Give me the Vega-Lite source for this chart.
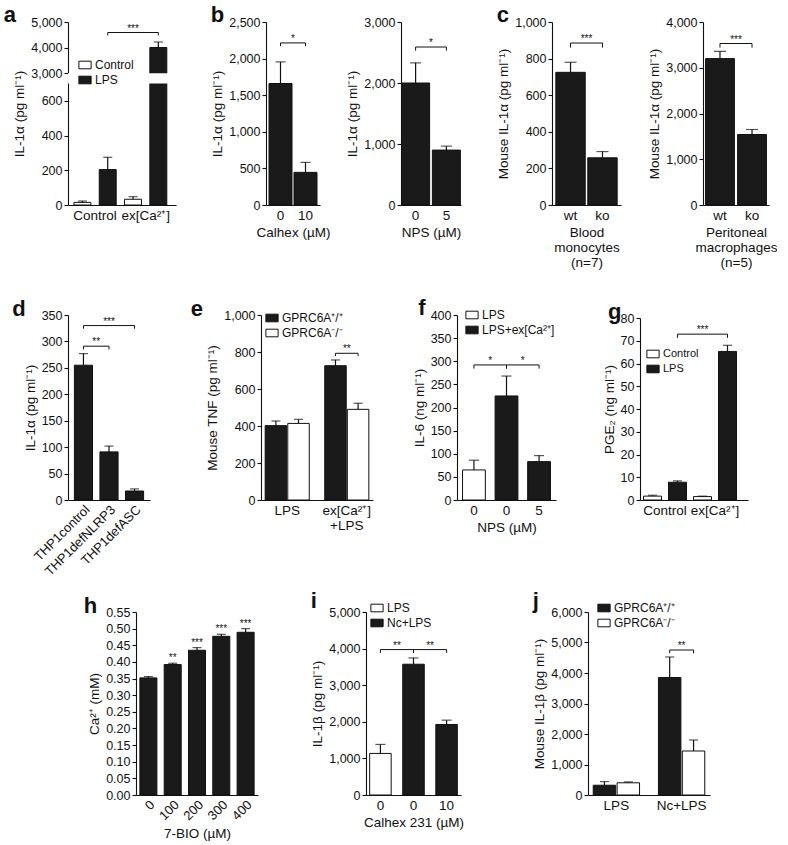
{
"$schema": "https://vega.github.io/schema/vega-lite/v6.json",
"background": "white",
"padding": {"left": 3, "top": 4, "right": 0, "bottom": 0},
"config": {
  "font": "Liberation Sans",
  "view": {"stroke": null},
  "axis": {"grid": false, "domainColor": "#111111", "domainWidth": 1.1, "tickColor": "#111111", "tickWidth": 1.1, "tickSize": 4, "labelColor": "#111111", "titleColor": "#111111", "labelFontSize": 12.5, "titleFontSize": 13.5, "titleFontWeight": "normal", "labelPadding": 2, "titlePadding": 4, "labelFont": "Liberation Sans", "titleFont": "Liberation Sans", "titleLineHeight": 15, "labelLineHeight": 15},
  "axisX": {"ticks": false, "labelAngle": 0, "labelPadding": 3, "labelFontSize": 13.5},
  "legend": {"symbolType": "M-1,-0.62H1V0.62H-1Z", "symbolSize": 150, "symbolStrokeColor": "#111111", "symbolStrokeWidth": 1, "labelFontSize": 12, "labelColor": "#111111", "rowPadding": 2, "labelOffset": 3, "labelFont": "Liberation Sans"},
  "title": {"fontSize": 22, "fontWeight": "bold", "anchor": "start", "frame": "bounds", "offset": 0, "baseline": "alphabetic", "color": "#111111", "font": "Liberation Sans"}
},
"datasets": {
  "a": [{"grp":"Control","sub":"Control","v":15,"err":23},{"grp":"Control","sub":"LPS","v":204,"err":275},{"grp":"ex[Ca²⁺]","sub":"Control","v":33,"err":48},{"grp":"ex[Ca²⁺]","sub":"LPS","v":4005,"err":4220}],
  "a_br": [{"b":1,"o":1,"grp":"Control","sub":"LPS","v":4480},{"b":1,"o":2,"grp":"Control","sub":"LPS","v":4590},{"b":1,"o":3,"grp":"ex[Ca²⁺]","sub":"LPS","v":4590},{"b":1,"o":4,"grp":"ex[Ca²⁺]","sub":"LPS","v":4480}],
  "a_st": [{"grp":"ex[Ca²⁺]","sub":"Control","v":4590,"s":"***"}],
  "b1": [{"cat":"0","v":1660,"err":1955},{"cat":"10","v":446,"err":582}],
  "b1_br": [{"b":1,"o":1,"cat":"0","v":2170},{"b":1,"o":2,"cat":"0","v":2214},{"b":1,"o":3,"cat":"10","v":2214},{"b":1,"o":4,"cat":"10","v":2170}],
  "b1_st": [{"cat":"0","v":2214,"s":"*"}],
  "b2": [{"cat":"0","v":2000,"err":2330},{"cat":"5","v":900,"err":965}],
  "b2_br": [{"b":1,"o":1,"cat":"0","v":2530},{"b":1,"o":2,"cat":"0","v":2590},{"b":1,"o":3,"cat":"5","v":2590},{"b":1,"o":4,"cat":"5","v":2530}],
  "b2_st": [{"cat":"0","v":2590,"s":"*"}],
  "c1": [{"cat":"wt","v":725,"err":780},{"cat":"ko","v":258,"err":292}],
  "c1_br": [{"b":1,"o":1,"cat":"wt","v":860},{"b":1,"o":2,"cat":"wt","v":885},{"b":1,"o":3,"cat":"ko","v":885},{"b":1,"o":4,"cat":"ko","v":860}],
  "c1_st": [{"cat":"wt","v":885,"s":"***"}],
  "c2": [{"cat":"wt","v":3200,"err":3360},{"cat":"ko","v":1540,"err":1650}],
  "c2_br": [{"b":1,"o":1,"cat":"wt","v":3440},{"b":1,"o":2,"cat":"wt","v":3530},{"b":1,"o":3,"cat":"ko","v":3530},{"b":1,"o":4,"cat":"ko","v":3440}],
  "c2_st": [{"cat":"wt","v":3530,"s":"***"}],
  "d": [{"cat":"THP1control","v":255,"err":277},{"cat":"THP1defNLRP3","v":91,"err":102},{"cat":"THP1defASC","v":17,"err":21}],
  "d_br": [{"b":1,"o":1,"cat":"THP1control","v":285},{"b":1,"o":2,"cat":"THP1control","v":291},{"b":1,"o":3,"cat":"THP1defNLRP3","v":291},{"b":1,"o":4,"cat":"THP1defNLRP3","v":285},{"b":2,"o":1,"cat":"THP1control","v":324},{"b":2,"o":2,"cat":"THP1control","v":330},{"b":2,"o":3,"cat":"THP1defASC","v":330},{"b":2,"o":4,"cat":"THP1defASC","v":324}],
  "d_st1": [{"cat":"THP1control","v":291,"s":"**"}],
  "d_st2": [{"cat":"THP1defNLRP3","v":330,"s":"***"}],
  "e": [{"grp":"LPS","sub":"GPRC6A⁺/⁺","v":402,"err":427},{"grp":"LPS","sub":"GPRC6A⁻/⁻","v":414,"err":436},{"grp":"ex[Ca²⁺]\n+LPS","sub":"GPRC6A⁺/⁺","v":726,"err":757},{"grp":"ex[Ca²⁺]\n+LPS","sub":"GPRC6A⁻/⁻","v":490,"err":523}],
  "e_br": [{"b":1,"o":1,"grp":"ex[Ca²⁺]\n+LPS","sub":"GPRC6A⁺/⁺","v":778},{"b":1,"o":2,"grp":"ex[Ca²⁺]\n+LPS","sub":"GPRC6A⁺/⁺","v":793},{"b":1,"o":3,"grp":"ex[Ca²⁺]\n+LPS","sub":"GPRC6A⁻/⁻","v":793},{"b":1,"o":4,"grp":"ex[Ca²⁺]\n+LPS","sub":"GPRC6A⁻/⁻","v":778}],
  "e_st": [{"grp":"ex[Ca²⁺]\n+LPS","v":793,"s":"**"}],
  "f": [{"cat":"0|LPS","trt":"LPS","v":65,"err":86},{"cat":"0|LPS+ex","trt":"LPS+ex[Ca²⁺]","v":225,"err":268},{"cat":"5|LPS+ex","trt":"LPS+ex[Ca²⁺]","v":83,"err":96}],
  "f_br": [{"b":1,"o":1,"cat":"0|LPS","v":284},{"b":1,"o":2,"cat":"0|LPS","v":292},{"b":1,"o":3,"cat":"0|LPS+ex","v":292},{"b":1,"o":4,"cat":"0|LPS+ex","v":284},{"b":2,"o":1,"cat":"0|LPS+ex","v":284},{"b":2,"o":2,"cat":"0|LPS+ex","v":292},{"b":2,"o":3,"cat":"5|LPS+ex","v":292},{"b":2,"o":4,"cat":"5|LPS+ex","v":284}],
  "f_st": [{"cat":"0|LPS","v":292,"s":"*"},{"cat":"0|LPS+ex","v":292,"s":"*"}],
  "g": [{"grp":"Control","sub":"Control","v":1.7,"err":2.1},{"grp":"Control","sub":"LPS","v":7.8,"err":8.4},{"grp":"ex[Ca²⁺]","sub":"Control","v":1.5,"err":1.7},{"grp":"ex[Ca²⁺]","sub":"LPS","v":65.3,"err":68}],
  "g_br": [{"b":1,"o":1,"grp":"Control","sub":"LPS","v":71.3},{"b":1,"o":2,"grp":"Control","sub":"LPS","v":72.9},{"b":1,"o":3,"grp":"ex[Ca²⁺]","sub":"LPS","v":72.9},{"b":1,"o":4,"grp":"ex[Ca²⁺]","sub":"LPS","v":71.3}],
  "g_st": [{"grp":"ex[Ca²⁺]","sub":"Control","v":72.9,"s":"***"}],
  "h": [{"cat":"0","v":0.352,"err":0.356},{"cat":"100","v":0.392,"err":0.396},{"cat":"200","v":0.435,"err":0.443},{"cat":"300","v":0.477,"err":0.483},{"cat":"400","v":0.489,"err":0.5}],
  "h_st": [{"cat":"100","v":0.396,"s":"**"},{"cat":"200","v":0.443,"s":"***"},{"cat":"300","v":0.483,"s":"***"},{"cat":"400","v":0.5,"s":"***"}],
  "i": [{"cat":"0|LPS","trt":"LPS","v":1136,"err":1382},{"cat":"0|Nc","trt":"Nc+LPS","v":3573,"err":3745},{"cat":"10|Nc","trt":"Nc+LPS","v":1927,"err":2045}],
  "i_br": [{"b":1,"o":1,"cat":"0|LPS","v":3882},{"b":1,"o":2,"cat":"0|LPS","v":3973},{"b":1,"o":3,"cat":"0|Nc","v":3973},{"b":1,"o":4,"cat":"0|Nc","v":3882},{"b":2,"o":1,"cat":"0|Nc","v":3882},{"b":2,"o":2,"cat":"0|Nc","v":3973},{"b":2,"o":3,"cat":"10|Nc","v":3973},{"b":2,"o":4,"cat":"10|Nc","v":3882}],
  "i_st": [{"cat":"0|LPS","v":3973,"s":"**"},{"cat":"0|Nc","v":3973,"s":"**"}],
  "j": [{"grp":"LPS","sub":"GPRC6A⁺/⁺","v":320,"err":440},{"grp":"LPS","sub":"GPRC6A⁻/⁻","v":400,"err":430},{"grp":"Nc+LPS","sub":"GPRC6A⁺/⁺","v":3850,"err":4525},{"grp":"Nc+LPS","sub":"GPRC6A⁻/⁻","v":1443,"err":1803}],
  "j_br": [{"b":1,"o":1,"grp":"Nc+LPS","sub":"GPRC6A⁺/⁺","v":4645},{"b":1,"o":2,"grp":"Nc+LPS","sub":"GPRC6A⁺/⁺","v":4754},{"b":1,"o":3,"grp":"Nc+LPS","sub":"GPRC6A⁻/⁻","v":4754},{"b":1,"o":4,"grp":"Nc+LPS","sub":"GPRC6A⁻/⁻","v":4645}],
  "j_st": [{"grp":"Nc+LPS","v":4754,"s":"**"}]
},
"spacing": 11,
"resolve": {"scale": {"fill": "independent", "xOffset": "independent"}, "legend": {"fill": "independent"}},
"vconcat": [
 {"spacing": 28,
  "resolve": {"scale": {"fill": "independent", "xOffset": "independent"}, "legend": {"fill": "independent"}},
  "vconcat": [
  {"bounds": "flush", "spacing": 0,
   "resolve": {"scale": {"fill": "independent", "xOffset": "independent"}, "legend": {"fill": "independent"}},
   "hconcat": [
  {"title": {"text": "a", "dx": -9, "dy": 15}, "width": 108, "height": 183,
   "layer": [
    {"data": {"name": "a"},
     "encoding": {
       "x": {"field": "grp", "type": "nominal", "sort": ["Control", "ex[Ca²⁺]"], "scale": {"paddingInner": 0, "paddingOuter": 0.067, "align": 0.26}, "axis": {"title": null}},
       "y": {"field": "v", "type": "quantitative", "scale": {"domain": [0, 700, 3000, 5000], "range": [183, 61.5, 51.3, 0], "nice": false, "zero": false}, "axis": {"values": [0, 200, 400, 600, 3000, 4000, 5000], "format": ",d", "title": "IL-1α (pg ml⁻¹)", "zindex": 0}}
     },
     "layer": [
       {"mark": {"type": "bar", "stroke": "#111111", "strokeWidth": 1}, "encoding": {"xOffset": {"field": "sub", "type": "nominal", "sort": ["Control", "LPS"], "scale": {"paddingInner": 0.33, "paddingOuter": 0.165}}, "fill": {"field": "sub", "type": "nominal", "scale": {"domain": ["Control", "LPS"], "range": ["#ffffff", "#1a1a1a"]}, "legend": {"title": null, "orient": "none", "legendX": 10, "legendY": 36}}}},
       {"mark": {"type": "rule", "color": "#111111", "strokeWidth": 1.2}, "encoding": {"xOffset": {"field": "sub", "type": "nominal", "sort": ["Control", "LPS"], "scale": {"paddingInner": 0.33, "paddingOuter": 0.165}}, "y2": {"field": "err"}}},
       {"mark": {"type": "tick", "color": "#111111", "thickness": 1.2, "size": 9}, "encoding": {"xOffset": {"field": "sub", "type": "nominal", "sort": ["Control", "LPS"], "scale": {"paddingInner": 0.33, "paddingOuter": 0.165}}, "y": {"field": "err", "type": "quantitative", "axis": {"values": [0, 200, 400, 600, 3000, 4000, 5000], "format": ",d", "title": "IL-1α (pg ml⁻¹)", "zindex": 0}}}},
       {"data": {"name": "a_br"}, "mark": {"type": "line", "color": "#111111", "strokeWidth": 1}, "encoding": {"xOffset": {"field": "sub", "type": "nominal", "sort": ["Control", "LPS"], "scale": {"paddingInner": 0.33, "paddingOuter": 0.165}}, "detail": {"field": "b"}, "order": {"field": "o"}}},
       {"data": {"name": "a_st"}, "mark": {"type": "text", "fontSize": 10, "dy": -1, "baseline": "alphabetic", "color": "#111111"}, "encoding": {"xOffset": {"field": "sub", "type": "nominal", "sort": ["Control", "LPS"], "scale": {"paddingInner": 0.33, "paddingOuter": 0.165}}, "text": {"field": "s"}}}
     ]},
    {"data": {"values": [{"lo": 700, "hi": 3000}]}, "mark": {"type": "rect", "fill": "#ffffff"}, "encoding": {"y": {"field": "lo", "type": "quantitative", "axis": {"values": [0, 200, 400, 600, 3000, 4000, 5000], "format": ",d", "title": "IL-1α (pg ml⁻¹)", "zindex": 0}}, "y2": {"field": "hi"}}}
   ]},
  {"width": 90, "height": 183, "data": {"values": []}, "mark": "point"},
  {"title": {"text": "b", "dy": 15}, "width": 54, "height": 183, "data": {"name": "b1"},
   "encoding": {
     "x": {"field": "cat", "type": "nominal", "sort": ["0", "10"], "scale": {"paddingInner": 0.08, "paddingOuter": 0.12}, "axis": {"title": "Calhex (µM)"}},
     "y": {"field": "v", "type": "quantitative", "scale": {"domain": [0, 2500], "nice": false}, "axis": {"values": [0, 500, 1000, 1500, 2000, 2500], "format": ",d", "title": "IL-1α (pg ml⁻¹)"}}
   },
   "layer": [
     {"mark": {"type": "bar", "fill": "#1a1a1a", "stroke": "#111111", "strokeWidth": 1}},
     {"mark": {"type": "rule", "color": "#111111", "strokeWidth": 1.2}, "encoding": {"y2": {"field": "err"}}},
     {"mark": {"type": "tick", "color": "#111111", "thickness": 1.2, "size": 10}, "encoding": {"y": {"field": "err", "type": "quantitative", "axis": {"values": [0, 500, 1000, 1500, 2000, 2500], "format": ",d", "title": "IL-1α (pg ml⁻¹)"}}}},
     {"data": {"name": "b1_br"}, "mark": {"type": "line", "color": "#111111", "strokeWidth": 1}, "encoding": {"detail": {"field": "b"}, "order": {"field": "o"}}},
     {"data": {"name": "b1_st"}, "mark": {"type": "text", "fontSize": 10, "dy": -1, "baseline": "alphabetic", "color": "#111111"}, "encoding": {"x": {"field": "cat", "type": "nominal", "sort": ["0", "10"], "bandPosition": 1.043, "axis": {"title": "Calhex (µM)"}}, "text": {"field": "s"}}}
   ]},
  {"width": 81, "height": 183, "data": {"values": []}, "mark": "point"},
  {"width": 60, "height": 183, "data": {"name": "b2"},
   "encoding": {
     "x": {"field": "cat", "type": "nominal", "sort": ["0", "5"], "scale": {"paddingInner": 0.09, "paddingOuter": 0.02}, "axis": {"title": "NPS (µM)"}},
     "y": {"field": "v", "type": "quantitative", "scale": {"domain": [0, 3000], "nice": false}, "axis": {"values": [0, 1000, 2000, 3000], "format": ",d", "title": "IL-1α (pg ml⁻¹)"}}
   },
   "layer": [
     {"mark": {"type": "bar", "fill": "#1a1a1a", "stroke": "#111111", "strokeWidth": 1}},
     {"mark": {"type": "rule", "color": "#111111", "strokeWidth": 1.2}, "encoding": {"y2": {"field": "err"}}},
     {"mark": {"type": "tick", "color": "#111111", "thickness": 1.2, "size": 11}, "encoding": {"y": {"field": "err", "type": "quantitative", "axis": {"values": [0, 1000, 2000, 3000], "format": ",d", "title": "IL-1α (pg ml⁻¹)"}}}},
     {"data": {"name": "b2_br"}, "mark": {"type": "line", "color": "#111111", "strokeWidth": 1}, "encoding": {"detail": {"field": "b"}, "order": {"field": "o"}}},
     {"data": {"name": "b2_st"}, "mark": {"type": "text", "fontSize": 10, "dy": -1, "baseline": "alphabetic", "color": "#111111"}, "encoding": {"x": {"field": "cat", "type": "nominal", "sort": ["0", "5"], "bandPosition": 1.049, "axis": {"title": "NPS (µM)"}}, "text": {"field": "s"}}}
   ]},
  {"width": 91, "height": 183, "data": {"values": []}, "mark": "point"},
  {"title": {"text": "c", "dy": 15}, "width": 69, "height": 183, "data": {"name": "c1"},
   "encoding": {
     "x": {"field": "cat", "type": "nominal", "sort": ["wt", "ko"], "scale": {"paddingInner": 0.08, "paddingOuter": 0.12}, "axis": {"title": ["Blood", "monocytes", "(n=7)"]}},
     "y": {"field": "v", "type": "quantitative", "scale": {"domain": [0, 1000], "nice": false}, "axis": {"values": [0, 200, 400, 600, 800, 1000], "format": ",d", "title": "Mouse IL-1α (pg ml⁻¹)"}}
   },
   "layer": [
     {"mark": {"type": "bar", "fill": "#1a1a1a", "stroke": "#111111", "strokeWidth": 1}},
     {"mark": {"type": "rule", "color": "#111111", "strokeWidth": 1.2}, "encoding": {"y2": {"field": "err"}}},
     {"mark": {"type": "tick", "color": "#111111", "thickness": 1.2, "size": 12}, "encoding": {"y": {"field": "err", "type": "quantitative", "axis": {"values": [0, 200, 400, 600, 800, 1000], "format": ",d", "title": "Mouse IL-1α (pg ml⁻¹)"}}}},
     {"data": {"name": "c1_br"}, "mark": {"type": "line", "color": "#111111", "strokeWidth": 1}, "encoding": {"detail": {"field": "b"}, "order": {"field": "o"}}},
     {"data": {"name": "c1_st"}, "mark": {"type": "text", "fontSize": 10, "dy": -1, "baseline": "alphabetic", "color": "#111111"}, "encoding": {"x": {"field": "cat", "type": "nominal", "sort": ["wt", "ko"], "bandPosition": 1.043, "axis": {"title": ["Blood", "monocytes", "(n=7)"]}}, "text": {"field": "s"}}}
   ]},
  {"width": 82, "height": 183, "data": {"values": []}, "mark": "point"},
  {"width": 66, "height": 183, "data": {"name": "c2"},
   "encoding": {
     "x": {"field": "cat", "type": "nominal", "sort": ["wt", "ko"], "scale": {"paddingInner": 0.1, "paddingOuter": 0.08}, "axis": {"title": ["Peritoneal", "macrophages", "(n=5)"]}},
     "y": {"field": "v", "type": "quantitative", "scale": {"domain": [0, 4000], "nice": false}, "axis": {"values": [0, 1000, 2000, 3000, 4000], "format": ",d", "title": "Mouse IL-1α (pg ml⁻¹)"}}
   },
   "layer": [
     {"mark": {"type": "bar", "fill": "#1a1a1a", "stroke": "#111111", "strokeWidth": 1}},
     {"mark": {"type": "rule", "color": "#111111", "strokeWidth": 1.2}, "encoding": {"y2": {"field": "err"}}},
     {"mark": {"type": "tick", "color": "#111111", "thickness": 1.2, "size": 12}, "encoding": {"y": {"field": "err", "type": "quantitative", "axis": {"values": [0, 1000, 2000, 3000, 4000], "format": ",d", "title": "Mouse IL-1α (pg ml⁻¹)"}}}},
     {"data": {"name": "c2_br"}, "mark": {"type": "line", "color": "#111111", "strokeWidth": 1}, "encoding": {"detail": {"field": "b"}, "order": {"field": "o"}}},
     {"data": {"name": "c2_st"}, "mark": {"type": "text", "fontSize": 10, "dy": -1, "baseline": "alphabetic", "color": "#111111"}, "encoding": {"x": {"field": "cat", "type": "nominal", "sort": ["wt", "ko"], "bandPosition": 1.056, "axis": {"title": ["Peritoneal", "macrophages", "(n=5)"]}}, "text": {"field": "s"}}}
   ]}
  ]},

  {"bounds": "flush", "spacing": 0,
   "resolve": {"scale": {"fill": "independent", "xOffset": "independent"}, "legend": {"fill": "independent"}},
   "hconcat": [
  {"title": {"text": "d", "dx": -11, "dy": 16}, "width": 82, "height": 185, "data": {"name": "d"},
   "encoding": {
     "x": {"field": "cat", "type": "nominal", "sort": ["THP1control", "THP1defNLRP3", "THP1defASC"], "scale": {"paddingInner": 0.29, "paddingOuter": 0.25}, "axis": {"title": null, "labelAngle": -45, "labelFontSize": 13}},
     "y": {"field": "v", "type": "quantitative", "scale": {"domain": [0, 350], "nice": false}, "axis": {"values": [0, 50, 100, 150, 200, 250, 300, 350], "title": "IL-1α (pg ml⁻¹)"}}
   },
   "layer": [
     {"mark": {"type": "bar", "fill": "#1a1a1a", "stroke": "#111111", "strokeWidth": 1}},
     {"mark": {"type": "rule", "color": "#111111", "strokeWidth": 1.2}, "encoding": {"y2": {"field": "err"}}},
     {"mark": {"type": "tick", "color": "#111111", "thickness": 1.2, "size": 9}, "encoding": {"y": {"field": "err", "type": "quantitative", "axis": {"values": [0, 50, 100, 150, 200, 250, 300, 350], "title": "IL-1α (pg ml⁻¹)"}}}},
     {"data": {"name": "d_br"}, "mark": {"type": "line", "color": "#111111", "strokeWidth": 1}, "encoding": {"detail": {"field": "b"}, "order": {"field": "o"}}},
     {"data": {"name": "d_st1"}, "mark": {"type": "text", "fontSize": 10, "dy": -1, "baseline": "alphabetic", "color": "#111111"}, "encoding": {"x": {"field": "cat", "type": "nominal", "sort": ["THP1control", "THP1defNLRP3", "THP1defASC"], "bandPosition": 1.204, "axis": {"title": null, "labelAngle": -45, "labelFontSize": 13}}, "text": {"field": "s"}}},
     {"data": {"name": "d_st2"}, "mark": {"type": "text", "fontSize": 10, "dy": -1, "baseline": "alphabetic", "color": "#111111"}, "encoding": {"text": {"field": "s"}}}
   ]},
  {"width": 111, "height": 185, "data": {"values": []}, "mark": "point"},
  {"title": {"text": "e", "dx": -15, "dy": 16}, "width": 112, "height": 185, "data": {"name": "e"},
   "encoding": {
     "x": {"field": "grp", "type": "nominal", "sort": ["LPS", "ex[Ca²⁺]\n+LPS"], "scale": {"paddingInner": 0.26, "paddingOuter": 0.07}, "axis": {"title": null, "labelExpr": "split(datum.label, '\\n')"}},
     "y": {"field": "v", "type": "quantitative", "scale": {"domain": [0, 1000], "nice": false}, "axis": {"values": [0, 200, 400, 600, 800, 1000], "format": ",d", "title": "Mouse TNF (pg ml⁻¹)"}}
   },
   "layer": [
     {"mark": {"type": "bar", "stroke": "#111111", "strokeWidth": 1}, "encoding": {"xOffset": {"field": "sub", "type": "nominal", "sort": ["GPRC6A⁺/⁺", "GPRC6A⁻/⁻"], "scale": {"paddingInner": 0.05, "paddingOuter": 0}}, "fill": {"field": "sub", "type": "nominal", "scale": {"domain": ["GPRC6A⁺/⁺", "GPRC6A⁻/⁻"], "range": ["#1a1a1a", "#ffffff"]}, "legend": {"title": null, "orient": "none", "legendX": 4, "legendY": -4}}}},
     {"mark": {"type": "rule", "color": "#111111", "strokeWidth": 1.2}, "encoding": {"xOffset": {"field": "sub", "type": "nominal", "sort": ["GPRC6A⁺/⁺", "GPRC6A⁻/⁻"], "scale": {"paddingInner": 0.05, "paddingOuter": 0}}, "y2": {"field": "err"}}},
     {"mark": {"type": "tick", "color": "#111111", "thickness": 1.2, "size": 9}, "encoding": {"xOffset": {"field": "sub", "type": "nominal", "sort": ["GPRC6A⁺/⁺", "GPRC6A⁻/⁻"], "scale": {"paddingInner": 0.05, "paddingOuter": 0}}, "y": {"field": "err", "type": "quantitative", "axis": {"values": [0, 200, 400, 600, 800, 1000], "format": ",d", "title": "Mouse TNF (pg ml⁻¹)"}}}},
     {"data": {"name": "e_br"}, "mark": {"type": "line", "color": "#111111", "strokeWidth": 1}, "encoding": {"xOffset": {"field": "sub", "type": "nominal", "sort": ["GPRC6A⁺/⁺", "GPRC6A⁻/⁻"], "scale": {"paddingInner": 0.05, "paddingOuter": 0}}, "detail": {"field": "b"}, "order": {"field": "o"}}},
     {"data": {"name": "e_st"}, "mark": {"type": "text", "fontSize": 10, "dy": -1, "baseline": "alphabetic", "color": "#111111"}, "encoding": {"text": {"field": "s"}}}
   ]},
  {"width": 84, "height": 185, "data": {"values": []}, "mark": "point"},
  {"title": {"text": "f", "dx": 6, "dy": 16}, "width": 99, "height": 185, "data": {"name": "f"},
   "encoding": {
     "x": {"field": "cat", "type": "nominal", "sort": ["0|LPS", "0|LPS+ex", "5|LPS+ex"], "scale": {"paddingInner": 0.3, "paddingOuter": 0.17}, "axis": {"title": "NPS (µM)", "labelExpr": "split(datum.label, '|')[0]"}},
     "y": {"field": "v", "type": "quantitative", "scale": {"domain": [0, 400], "nice": false}, "axis": {"values": [0, 50, 100, 150, 200, 250, 300, 350, 400], "title": "IL-6 (ng ml⁻¹)"}}
   },
   "layer": [
     {"mark": {"type": "bar", "stroke": "#111111", "strokeWidth": 1}, "encoding": {"fill": {"field": "trt", "type": "nominal", "scale": {"domain": ["LPS", "LPS+ex[Ca²⁺]"], "range": ["#ffffff", "#1a1a1a"]}, "legend": {"title": null, "orient": "none", "legendX": 8, "legendY": -7}}}},
     {"mark": {"type": "rule", "color": "#111111", "strokeWidth": 1.2}, "encoding": {"y2": {"field": "err"}}},
     {"mark": {"type": "tick", "color": "#111111", "thickness": 1.2, "size": 10}, "encoding": {"y": {"field": "err", "type": "quantitative", "axis": {"values": [0, 50, 100, 150, 200, 250, 300, 350, 400], "title": "IL-6 (ng ml⁻¹)"}}}},
     {"data": {"name": "f_br"}, "mark": {"type": "line", "color": "#111111", "strokeWidth": 1}, "encoding": {"detail": {"field": "b"}, "order": {"field": "o"}}},
     {"data": {"name": "f_st"}, "mark": {"type": "text", "fontSize": 10, "dy": -1, "baseline": "alphabetic", "color": "#111111"}, "encoding": {"x": {"field": "cat", "type": "nominal", "sort": ["0|LPS", "0|LPS+ex", "5|LPS+ex"], "bandPosition": 1.214, "axis": {"title": "NPS (µM)", "labelExpr": "split(datum.label, '|')[0]"}}, "text": {"field": "s"}}}
   ]},
  {"width": 84, "height": 185, "data": {"values": []}, "mark": "point"},
  {"title": {"text": "g", "dx": 6, "dy": 16}, "width": 108, "height": 185,
   "data": {"name": "g"},
   "encoding": {
     "x": {"field": "grp", "type": "nominal", "sort": ["Control", "ex[Ca²⁺]"], "scale": {"paddingInner": 0, "paddingOuter": 0.08, "align": 0}, "axis": {"title": null}},
     "y": {"field": "v", "type": "quantitative", "scale": {"domain": [0, 80], "range": [185, 3], "nice": false}, "axis": {"values": [0, 10, 20, 30, 40, 50, 60, 70, 80], "title": "PGE₂ (ng ml⁻¹)"}}
   },
   "layer": [
     {"mark": {"type": "bar", "stroke": "#111111", "strokeWidth": 1}, "encoding": {"xOffset": {"field": "sub", "type": "nominal", "sort": ["Control", "LPS"], "scale": {"paddingInner": 0.28, "paddingOuter": 0.14}}, "fill": {"field": "sub", "type": "nominal", "scale": {"domain": ["Control", "LPS"], "range": ["#ffffff", "#1a1a1a"]}, "legend": {"title": null, "orient": "none", "legendX": 6, "legendY": 32, "labelFontSize": 11}}}},
     {"mark": {"type": "rule", "color": "#111111", "strokeWidth": 1.2}, "encoding": {"xOffset": {"field": "sub", "type": "nominal", "sort": ["Control", "LPS"], "scale": {"paddingInner": 0.28, "paddingOuter": 0.14}}, "y2": {"field": "err"}}},
     {"mark": {"type": "tick", "color": "#111111", "thickness": 1.2, "size": 9}, "encoding": {"xOffset": {"field": "sub", "type": "nominal", "sort": ["Control", "LPS"], "scale": {"paddingInner": 0.28, "paddingOuter": 0.14}}, "y": {"field": "err", "type": "quantitative", "axis": {"values": [0, 10, 20, 30, 40, 50, 60, 70, 80], "title": "PGE₂ (ng ml⁻¹)"}}}},
     {"data": {"name": "g_br"}, "mark": {"type": "line", "color": "#111111", "strokeWidth": 1}, "encoding": {"xOffset": {"field": "sub", "type": "nominal", "sort": ["Control", "LPS"], "scale": {"paddingInner": 0.28, "paddingOuter": 0.14}}, "detail": {"field": "b"}, "order": {"field": "o"}}},
     {"data": {"name": "g_st"}, "mark": {"type": "text", "fontSize": 10, "dy": -1, "baseline": "alphabetic", "color": "#111111"}, "encoding": {"xOffset": {"field": "sub", "type": "nominal", "sort": ["Control", "LPS"], "scale": {"paddingInner": 0.28, "paddingOuter": 0.14}}, "text": {"field": "s"}}}
   ]}
  ]}
 ]},

  {"bounds": "flush", "spacing": 0,
   "resolve": {"scale": {"fill": "independent", "xOffset": "independent"}, "legend": {"fill": "independent"}},
   "hconcat": [
  {"width": 68, "height": 183, "data": {"values": []}, "mark": "point"},
  {"title": {"text": "h", "dx": -4, "dy": 16}, "width": 122, "height": 183, "data": {"name": "h"},
   "encoding": {
     "x": {"field": "cat", "type": "nominal", "sort": ["0", "100", "200", "300", "400"], "scale": {"paddingInner": 0.3, "paddingOuter": 0.16}, "axis": {"title": "7-BIO (µM)", "labelAngle": -45, "labelFontSize": 13}},
     "y": {"field": "v", "type": "quantitative", "scale": {"domain": [0, 0.55], "nice": false}, "axis": {"values": [0, 0.05, 0.1, 0.15, 0.2, 0.25, 0.3, 0.35, 0.4, 0.45, 0.5, 0.55], "format": ".2f", "title": "Ca²⁺ (mM)"}}
   },
   "layer": [
     {"mark": {"type": "bar", "fill": "#1a1a1a", "stroke": "#111111", "strokeWidth": 1}},
     {"mark": {"type": "rule", "color": "#111111", "strokeWidth": 1.2}, "encoding": {"y2": {"field": "err"}}},
     {"mark": {"type": "tick", "color": "#111111", "thickness": 1.2, "size": 9}, "encoding": {"y": {"field": "err", "type": "quantitative", "axis": {"values": [0, 0.05, 0.1, 0.15, 0.2, 0.25, 0.3, 0.35, 0.4, 0.45, 0.5, 0.55], "format": ".2f", "title": "Ca²⁺ (mM)"}}}},
     {"data": {"name": "h_st"}, "mark": {"type": "text", "fontSize": 10, "dy": -2, "baseline": "alphabetic", "color": "#111111"}, "encoding": {"text": {"field": "s"}}}
   ]},
  {"width": 108, "height": 183, "data": {"values": []}, "mark": "point"},
  {"title": {"text": "i", "dy": 16}, "width": 95, "height": 183, "data": {"name": "i"},
   "encoding": {
     "x": {"field": "cat", "type": "nominal", "sort": ["0|LPS", "0|Nc", "10|Nc"], "scale": {"paddingInner": 0.35, "paddingOuter": 0.11}, "axis": {"title": "Calhex 231 (µM)", "labelExpr": "split(datum.label, '|')[0]"}},
     "y": {"field": "v", "type": "quantitative", "scale": {"domain": [0, 5000], "nice": false}, "axis": {"values": [0, 1000, 2000, 3000, 4000, 5000], "format": ",d", "title": "IL-1β (pg ml⁻¹)"}}
   },
   "layer": [
     {"mark": {"type": "bar", "stroke": "#111111", "strokeWidth": 1}, "encoding": {"fill": {"field": "trt", "type": "nominal", "scale": {"domain": ["LPS", "Nc+LPS"], "range": ["#ffffff", "#1a1a1a"]}, "legend": {"title": null, "orient": "none", "legendX": 4, "legendY": -11}}}},
     {"mark": {"type": "rule", "color": "#111111", "strokeWidth": 1.2}, "encoding": {"y2": {"field": "err"}}},
     {"mark": {"type": "tick", "color": "#111111", "thickness": 1.2, "size": 10}, "encoding": {"y": {"field": "err", "type": "quantitative", "axis": {"values": [0, 1000, 2000, 3000, 4000, 5000], "format": ",d", "title": "IL-1β (pg ml⁻¹)"}}}},
     {"data": {"name": "i_br"}, "mark": {"type": "line", "color": "#111111", "strokeWidth": 1}, "encoding": {"detail": {"field": "b"}, "order": {"field": "o"}}},
     {"data": {"name": "i_st"}, "mark": {"type": "text", "fontSize": 10, "dy": -1, "baseline": "alphabetic", "color": "#111111"}, "encoding": {"x": {"field": "cat", "type": "nominal", "sort": ["0|LPS", "0|Nc", "10|Nc"], "bandPosition": 1.269, "axis": {"title": "Calhex 231 (µM)", "labelExpr": "split(datum.label, '|')[0]"}}, "text": {"field": "s"}}}
   ]},
  {"width": 127, "height": 183, "data": {"values": []}, "mark": "point"},
  {"title": {"text": "j", "dy": 16}, "width": 122, "height": 183, "data": {"name": "j"},
   "encoding": {
     "x": {"field": "grp", "type": "nominal", "sort": ["LPS", "Nc+LPS"], "scale": {"paddingInner": 0.29, "paddingOuter": 0.08}, "axis": {"title": null}},
     "y": {"field": "v", "type": "quantitative", "scale": {"domain": [0, 6000], "nice": false}, "axis": {"values": [0, 1000, 2000, 3000, 4000, 5000, 6000], "format": ",d", "title": "Mouse IL-1β (pg ml⁻¹)"}}
   },
   "layer": [
     {"mark": {"type": "bar", "stroke": "#111111", "strokeWidth": 1}, "encoding": {"xOffset": {"field": "sub", "type": "nominal", "sort": ["GPRC6A⁺/⁺", "GPRC6A⁻/⁻"], "scale": {"paddingInner": 0.06, "paddingOuter": 0}}, "fill": {"field": "sub", "type": "nominal", "scale": {"domain": ["GPRC6A⁺/⁺", "GPRC6A⁻/⁻"], "range": ["#1a1a1a", "#ffffff"]}, "legend": {"title": null, "orient": "none", "legendX": 9, "legendY": -11}}}},
     {"mark": {"type": "rule", "color": "#111111", "strokeWidth": 1.2}, "encoding": {"xOffset": {"field": "sub", "type": "nominal", "sort": ["GPRC6A⁺/⁺", "GPRC6A⁻/⁻"], "scale": {"paddingInner": 0.06, "paddingOuter": 0}}, "y2": {"field": "err"}}},
     {"mark": {"type": "tick", "color": "#111111", "thickness": 1.2, "size": 9}, "encoding": {"xOffset": {"field": "sub", "type": "nominal", "sort": ["GPRC6A⁺/⁺", "GPRC6A⁻/⁻"], "scale": {"paddingInner": 0.06, "paddingOuter": 0}}, "y": {"field": "err", "type": "quantitative", "axis": {"values": [0, 1000, 2000, 3000, 4000, 5000, 6000], "format": ",d", "title": "Mouse IL-1β (pg ml⁻¹)"}}}},
     {"data": {"name": "j_br"}, "mark": {"type": "line", "color": "#111111", "strokeWidth": 1}, "encoding": {"xOffset": {"field": "sub", "type": "nominal", "sort": ["GPRC6A⁺/⁺", "GPRC6A⁻/⁻"], "scale": {"paddingInner": 0.06, "paddingOuter": 0}}, "detail": {"field": "b"}, "order": {"field": "o"}}},
     {"data": {"name": "j_st"}, "mark": {"type": "text", "fontSize": 10, "dy": -1, "baseline": "alphabetic", "color": "#111111"}, "encoding": {"text": {"field": "s"}}}
   ]}
  ]}
]
}
